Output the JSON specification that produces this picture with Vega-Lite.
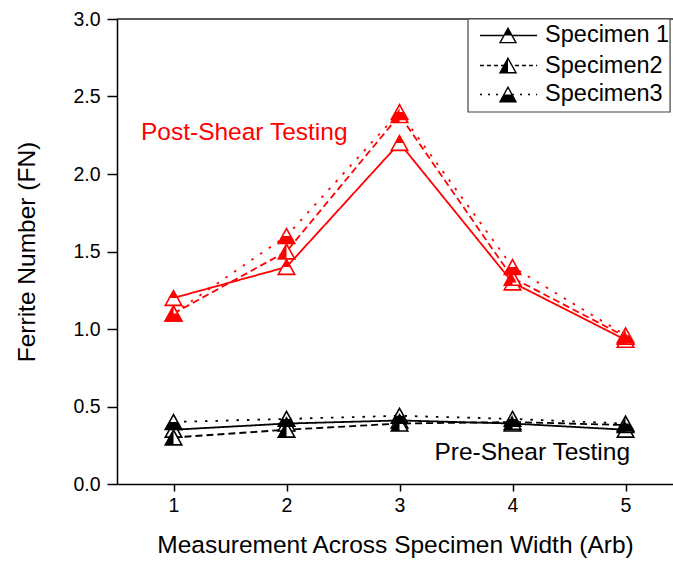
{
  "$schema": "https://vega.github.io/schema/vega-lite/v6.json",
  "width": 556,
  "height": 465,
  "autosize": "none",
  "padding": {"left": 117, "top": 19, "right": 0, "bottom": 78},
  "background": "white",
  "config": {
    "font": "Liberation Sans",
    "view": {"stroke": null},
    "axis": {
      "grid": false,
      "domainColor": "black",
      "domainWidth": 1.5,
      "tickColor": "black",
      "tickWidth": 1.5,
      "labelColor": "black",
      "labelFontSize": 19.5,
      "titleColor": "black",
      "titleFontSize": 24.5,
      "titleFontWeight": "normal"
    }
  },
  "data": {"values": [{}]},
  "datasets": {
    "main": [
      {"x": 1, "fn": 1.2, "specimen": "Specimen 1", "phase": "Post"},
      {"x": 2, "fn": 1.4, "specimen": "Specimen 1", "phase": "Post"},
      {"x": 3, "fn": 2.2, "specimen": "Specimen 1", "phase": "Post"},
      {"x": 4, "fn": 1.3, "specimen": "Specimen 1", "phase": "Post"},
      {"x": 5, "fn": 0.93, "specimen": "Specimen 1", "phase": "Post"},
      {"x": 1, "fn": 1.1, "specimen": "Specimen2", "phase": "Post"},
      {"x": 2, "fn": 1.5, "specimen": "Specimen2", "phase": "Post"},
      {"x": 3, "fn": 2.38, "specimen": "Specimen2", "phase": "Post"},
      {"x": 4, "fn": 1.33, "specimen": "Specimen2", "phase": "Post"},
      {"x": 5, "fn": 0.95, "specimen": "Specimen2", "phase": "Post"},
      {"x": 1, "fn": 1.1, "specimen": "Specimen3", "phase": "Post"},
      {"x": 2, "fn": 1.6, "specimen": "Specimen3", "phase": "Post"},
      {"x": 3, "fn": 2.4, "specimen": "Specimen3", "phase": "Post"},
      {"x": 4, "fn": 1.4, "specimen": "Specimen3", "phase": "Post"},
      {"x": 5, "fn": 0.96, "specimen": "Specimen3", "phase": "Post"},
      {"x": 1, "fn": 0.35, "specimen": "Specimen 1", "phase": "Pre"},
      {"x": 2, "fn": 0.39, "specimen": "Specimen 1", "phase": "Pre"},
      {"x": 3, "fn": 0.41, "specimen": "Specimen 1", "phase": "Pre"},
      {"x": 4, "fn": 0.39, "specimen": "Specimen 1", "phase": "Pre"},
      {"x": 5, "fn": 0.35, "specimen": "Specimen 1", "phase": "Pre"},
      {"x": 1, "fn": 0.3, "specimen": "Specimen2", "phase": "Pre"},
      {"x": 2, "fn": 0.35, "specimen": "Specimen2", "phase": "Pre"},
      {"x": 3, "fn": 0.39, "specimen": "Specimen2", "phase": "Pre"},
      {"x": 4, "fn": 0.4, "specimen": "Specimen2", "phase": "Pre"},
      {"x": 5, "fn": 0.38, "specimen": "Specimen2", "phase": "Pre"},
      {"x": 1, "fn": 0.4, "specimen": "Specimen3", "phase": "Pre"},
      {"x": 2, "fn": 0.42, "specimen": "Specimen3", "phase": "Pre"},
      {"x": 3, "fn": 0.44, "specimen": "Specimen3", "phase": "Pre"},
      {"x": 4, "fn": 0.42, "specimen": "Specimen3", "phase": "Pre"},
      {"x": 5, "fn": 0.39, "specimen": "Specimen3", "phase": "Pre"}
    ]
  },
  "layer": [
    {
      "data": {"name": "main"},
      "mark": {"type": "line", "strokeWidth": 1.8},
      "encoding": {
        "x": {
          "field": "x", "type": "quantitative",
          "scale": {"domain": [0.5, 5.42], "nice": false, "zero": false},
          "axis": {"values": [1, 2, 3, 4, 5], "format": "d", "tickSize": 7, "labelPadding": 5, "titlePadding": 19, "title": "Measurement Across Specimen Width (Arb)"}
        },
        "y": {
          "field": "fn", "type": "quantitative",
          "scale": {"domain": [0, 3], "nice": false, "zero": true},
          "axis": {
            "values": [0, 0.25, 0.5, 0.75, 1, 1.25, 1.5, 1.75, 2, 2.25, 2.5, 2.75, 3],
            "labelExpr": "datum.value * 2 == round(datum.value * 2) ? format(datum.value, '.1f') : ''",
            "tickSize": {"condition": {"test": "datum.value * 2 == round(datum.value * 2)", "value": 10}, "value": 5},
            "labelPadding": 7,
            "titlePadding": 33,
            "title": "Ferrite Number (FN)"
          }
        },
        "stroke": {"field": "phase", "type": "nominal", "scale": {"domain": ["Post", "Pre"], "range": ["#ff0000", "#000000"]}, "legend": null},
        "strokeDash": {"field": "specimen", "type": "nominal", "scale": {"domain": ["Specimen 1", "Specimen2", "Specimen3"], "range": [[1, 0], [7, 4], [2.5, 8]]}, "legend": null}
      }
    },
    {
      "data": {"name": "main"},
      "mark": {"type": "point", "filled": true, "size": 272, "strokeWidth": 1.6, "shape": "M0,-0.9L1,0.9L-1,0.9Z", "opacity": 1},
      "encoding": {
        "x": {"field": "x", "type": "quantitative"},
        "y": {"field": "fn", "type": "quantitative"},
        "fill": {"value": "white"},
        "stroke": {"field": "phase", "type": "nominal", "legend": null}
      }
    },
    {
      "data": {"name": "main"},
      "mark": {"type": "point", "filled": true, "size": 272, "strokeWidth": 0, "opacity": 1},
      "encoding": {
        "x": {"field": "x", "type": "quantitative"},
        "y": {"field": "fn", "type": "quantitative"},
        "fill": {"field": "phase", "type": "nominal", "scale": {"domain": ["Post", "Pre"], "range": ["#ff0000", "#000000"]}, "legend": null},
        "shape": {"field": "specimen", "type": "nominal", "scale": {"domain": ["Specimen 1", "Specimen2", "Specimen3"], "range": ["M0,-0.9L0.5,0L-0.5,0Z", "M0,-0.9L0,0.9L-1,0.9Z", "M-0.5,0L0.5,0L1,0.9L-1,0.9Z"]}, "legend": null}
      }
    },
    {
      "mark": {"type": "text", "text": "Post-Shear Testing", "color": "#ff0000", "fontSize": 24.5, "align": "left", "baseline": "middle"},
      "encoding": {"x": {"datum": 0.712}, "y": {"datum": 2.265}}
    },
    {
      "mark": {"type": "text", "text": "Pre-Shear Testing", "color": "#000000", "fontSize": 24.5, "align": "right", "baseline": "middle"},
      "encoding": {"x": {"datum": 5.04}, "y": {"datum": 0.2}}
    },
    {
      "mark": {"type": "rule", "color": "#222222", "strokeWidth": 1.5},
      "encoding": {"y": {"datum": 3}}
    },
    {
      "mark": {"type": "rect", "fill": "white", "stroke": "#444444", "strokeWidth": 1.2},
      "encoding": {"x": {"datum": 3.606}, "x2": {"datum": 5.394}, "y": {"datum": 3.0}, "y2": {"datum": 2.4}}
    },
    {
      "mark": {"type": "rule", "color": "black", "strokeWidth": 1.5},
      "encoding": {"x": {"datum": 3.712}, "x2": {"datum": 4.217}, "y": {"datum": 2.894}}
    },
    {
      "mark": {"type": "rule", "color": "black", "strokeWidth": 1.5, "strokeDash": [4, 3]},
      "encoding": {"x": {"datum": 3.712}, "x2": {"datum": 4.217}, "y": {"datum": 2.7}}
    },
    {
      "mark": {"type": "rule", "color": "black", "strokeWidth": 1.5, "strokeDash": [2, 6]},
      "encoding": {"x": {"datum": 3.712}, "x2": {"datum": 4.217}, "y": {"datum": 2.513}}
    },
    {
      "mark": {"type": "point", "filled": true, "size": 256, "strokeWidth": 1.4, "fill": "white", "stroke": "black", "shape": "M0,-0.9L1,0.9L-1,0.9Z", "opacity": 1},
      "encoding": {"x": {"datum": 3.96}, "y": {"datum": 2.894}}
    },
    {
      "mark": {"type": "point", "filled": true, "size": 256, "strokeWidth": 1.4, "fill": "white", "stroke": "black", "shape": "M0,-0.9L1,0.9L-1,0.9Z", "opacity": 1},
      "encoding": {"x": {"datum": 3.96}, "y": {"datum": 2.7}}
    },
    {
      "mark": {"type": "point", "filled": true, "size": 256, "strokeWidth": 1.4, "fill": "white", "stroke": "black", "shape": "M0,-0.9L1,0.9L-1,0.9Z", "opacity": 1},
      "encoding": {"x": {"datum": 3.96}, "y": {"datum": 2.513}}
    },
    {
      "mark": {"type": "point", "filled": true, "size": 256, "strokeWidth": 0, "fill": "black", "shape": "M0,-0.9L0.5,0L-0.5,0Z", "opacity": 1},
      "encoding": {"x": {"datum": 3.96}, "y": {"datum": 2.894}}
    },
    {
      "mark": {"type": "point", "filled": true, "size": 256, "strokeWidth": 0, "fill": "black", "shape": "M0,-0.9L0,0.9L-1,0.9Z", "opacity": 1},
      "encoding": {"x": {"datum": 3.96}, "y": {"datum": 2.7}}
    },
    {
      "mark": {"type": "point", "filled": true, "size": 256, "strokeWidth": 0, "fill": "black", "shape": "M-0.5,0L0.5,0L1,0.9L-1,0.9Z", "opacity": 1},
      "encoding": {"x": {"datum": 3.96}, "y": {"datum": 2.513}}
    },
    {
      "mark": {"type": "text", "text": "Specimen 1", "color": "black", "fontSize": 23.5, "align": "left", "baseline": "middle"},
      "encoding": {"x": {"datum": 4.288}, "y": {"datum": 2.894}}
    },
    {
      "mark": {"type": "text", "text": "Specimen2", "color": "black", "fontSize": 23.5, "align": "left", "baseline": "middle"},
      "encoding": {"x": {"datum": 4.288}, "y": {"datum": 2.7}}
    },
    {
      "mark": {"type": "text", "text": "Specimen3", "color": "black", "fontSize": 23.5, "align": "left", "baseline": "middle"},
      "encoding": {"x": {"datum": 4.288}, "y": {"datum": 2.513}}
    }
  ]
}
